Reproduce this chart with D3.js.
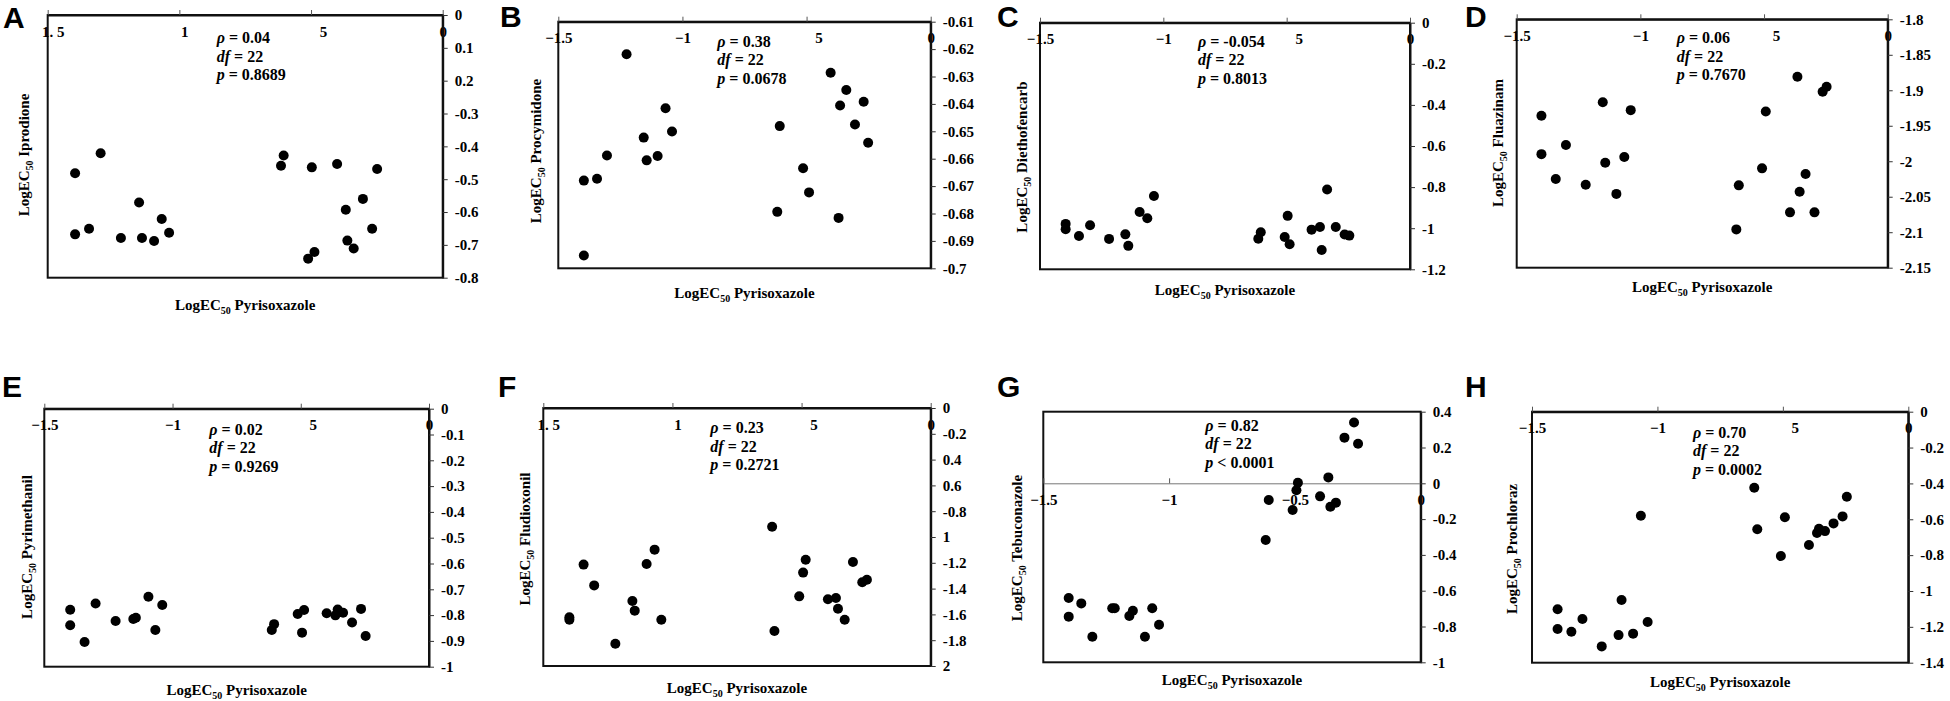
<!DOCTYPE html>
<html>
<head>
<meta charset="utf-8">
<script src="https://cdnjs.cloudflare.com/ajax/libs/d3/7.8.5/d3.min.js"></script>
<style>
    body { margin: 0; background: #fff; }
    svg text { font-family: "Liberation Serif", "Times New Roman", serif; font-weight: bold; fill: #000; }
    .letter { font-family: "Liberation Sans", Arial, sans-serif; font-size: 30px; }
    .tick text { font-size: 15px; }
</style>
</head>
<body>
<div id="chart"></div>
<script>
// LogEC50 pyrisoxazole (x) against LogEC50 of each partner fungicide (y)
var iprodioneX = [-1.396, -1.299, -1.396, -1.343, -1.222, -1.153, -1.142, -1.096, -1.067, -1.039, -0.614, -0.604, -0.497, -0.401, -0.249, -0.303, -0.368, -0.268, -0.362, -0.338, -0.487, -0.511];
var iprodioneY = [-0.482, -0.421, -0.668, -0.651, -0.679, -0.571, -0.679, -0.688, -0.621, -0.663, -0.459, -0.428, -0.464, -0.454, -0.469, -0.560, -0.593, -0.651, -0.687, -0.711, -0.722, -0.742];

var procymidoneX = [-1.225, -1.397, -1.344, -1.304, -1.397, -1.156, -1.144, -1.100, -1.068, -1.042, -0.608, -0.618, -0.514, -0.490, -0.403, -0.340, -0.365, -0.270, -0.305, -0.252, -0.371];
var procymidoneY = [-0.6219, -0.6680, -0.6673, -0.6588, -0.6953, -0.6523, -0.6606, -0.6590, -0.6416, -0.6501, -0.6481, -0.6794, -0.6635, -0.6723, -0.6286, -0.6349, -0.6406, -0.6392, -0.6475, -0.6542, -0.6816];

var diethofencarbX = [-1.396, -1.396, -1.342, -1.297, -1.220, -1.154, -1.142, -1.096, -1.065, -1.038, -0.615, -0.605, -0.508, -0.496, -0.488, -0.399, -0.365, -0.358, -0.336, -0.301, -0.265, -0.246];
var diethofencarbY = [-0.979, -1.005, -1.038, -0.986, -1.052, -1.030, -1.086, -0.921, -0.952, -0.843, -1.051, -1.020, -1.043, -0.940, -1.078, -1.007, -0.994, -1.106, -0.812, -0.994, -1.031, -1.036];

var fluazinamX = [-1.400, -1.400, -1.301, -1.342, -1.221, -1.152, -1.142, -1.097, -1.065, -1.039, -0.612, -0.602, -0.508, -0.493, -0.395, -0.365, -0.356, -0.332, -0.296, -0.263, -0.247];
var fluazinamY = [-1.936, -1.990, -1.977, -2.025, -2.033, -1.917, -2.002, -2.046, -1.994, -1.928, -2.096, -2.034, -2.010, -1.930, -2.072, -1.881, -2.043, -2.018, -2.072, -1.902, -1.895];

var pyrimethanilX = [-1.399, -1.399, -1.343, -1.300, -1.222, -1.153, -1.143, -1.094, -1.067, -1.040, -0.613, -0.604, -0.512, -0.487, -0.495, -0.399, -0.365, -0.356, -0.335, -0.300, -0.265, -0.247];
var pyrimethanilY = [-0.779, -0.839, -0.904, -0.755, -0.823, -0.815, -0.810, -0.729, -0.858, -0.761, -0.858, -0.835, -0.796, -0.780, -0.868, -0.793, -0.801, -0.778, -0.791, -0.829, -0.776, -0.881];

var fludioxonilX = [-1.399, -1.399, -1.344, -1.303, -1.221, -1.155, -1.146, -1.100, -1.069, -1.043, -0.614, -0.605, -0.509, -0.494, -0.484, -0.398, -0.367, -0.359, -0.333, -0.301, -0.265, -0.247];
var fludioxonilY = [-1.623, -1.641, -1.214, -1.375, -1.827, -1.496, -1.571, -1.209, -1.098, -1.641, -0.920, -1.729, -1.460, -1.276, -1.176, -1.483, -1.473, -1.556, -1.641, -1.194, -1.351, -1.331];

var tebuconazoleX = [-1.399, -1.399, -1.349, -1.305, -1.226, -1.216, -1.158, -1.144, -1.096, -1.067, -1.040, -0.616, -0.604, -0.509, -0.494, -0.488, -0.400, -0.367, -0.359, -0.337, -0.303, -0.265, -0.249];
var tebuconazoleY = [-0.641, -0.745, -0.671, -0.857, -0.698, -0.698, -0.741, -0.712, -0.857, -0.698, -0.790, -0.317, -0.093, -0.149, -0.039, 0.003, -0.073, 0.033, -0.131, -0.108, 0.255, 0.340, 0.221];

var prochlorazX = [-1.398, -1.398, -1.343, -1.299, -1.222, -1.155, -1.143, -1.097, -1.066, -1.039, -0.614, -0.602, -0.508, -0.492, -0.396, -0.364, -0.356, -0.332, -0.298, -0.262, -0.245];
var prochlorazY = [-1.102, -1.212, -1.227, -1.156, -1.309, -1.246, -1.050, -1.238, -0.580, -1.173, -0.424, -0.656, -0.805, -0.589, -0.744, -0.677, -0.653, -0.666, -0.623, -0.584, -0.474];

// x axis ticks (same for all panels) and the labels as printed
var xTicks = [-1.5, -1, -0.5, 0];
var xTickLabelsPlain = ["1. 5", "1", "5", "0"];
var xTickLabelsMinus = ["\u22121.5", "\u22121", "5", "0"];
var xTickLabelsFull = ["\u22121.5", "\u22121", "\u22120.5", "0"];

// y axis ticks and labels as printed
var iprodioneTicks = [0, -0.1, -0.2, -0.3, -0.4, -0.5, -0.6, -0.7, -0.8];
var iprodioneTickLabels = ["0", "0.1", "0.2", "-0.3", "-0.4", "-0.5", "-0.6", "-0.7", "-0.8"];
var procymidoneTicks = [-0.61, -0.62, -0.63, -0.64, -0.65, -0.66, -0.67, -0.68, -0.69, -0.70];
var procymidoneTickLabels = ["-0.61", "-0.62", "-0.63", "-0.64", "-0.65", "-0.66", "-0.67", "-0.68", "-0.69", "-0.7"];
var diethofencarbTicks = [0, -0.2, -0.4, -0.6, -0.8, -1, -1.2];
var diethofencarbTickLabels = ["0", "-0.2", "-0.4", "-0.6", "-0.8", "-1", "-1.2"];
var fluazinamTicks = [-1.8, -1.85, -1.9, -1.95, -2, -2.05, -2.1, -2.15];
var fluazinamTickLabels = ["-1.8", "-1.85", "-1.9", "-1.95", "-2", "-2.05", "-2.1", "-2.15"];
var pyrimethanilTicks = [0, -0.1, -0.2, -0.3, -0.4, -0.5, -0.6, -0.7, -0.8, -0.9, -1];
var pyrimethanilTickLabels = ["0", "-0.1", "-0.2", "-0.3", "-0.4", "-0.5", "-0.6", "-0.7", "-0.8", "-0.9", "-1"];
var fludioxonilTicks = [0, -0.2, -0.4, -0.6, -0.8, -1, -1.2, -1.4, -1.6, -1.8, -2];
var fludioxonilTickLabels = ["0", "-0.2", "0.4", "0.6", "-0.8", "1", "-1.2", "-1.4", "-1.6", "-1.8", "2"];
var tebuconazoleTicks = [0.4, 0.2, 0, -0.2, -0.4, -0.6, -0.8, -1];
var tebuconazoleTickLabels = ["0.4", "0.2", "0", "-0.2", "-0.4", "-0.6", "-0.8", "-1"];
var prochlorazTicks = [0, -0.2, -0.4, -0.6, -0.8, -1, -1.2, -1.4];
var prochlorazTickLabels = ["0", "-0.2", "-0.4", "-0.6", "-0.8", "-1", "-1.2", "-1.4"];

// correlation statistics
var rhoValues = ["0.04", "0.38", "-0.054", "0.06", "0.02", "0.23", "0.82", "0.70"];
var pRelations = ["=", "=", "=", "=", "=", "=", "<", "="];
var pValues = ["0.8689", "0.0678", "0.8013", "0.7670", "0.9269", "0.2721", "0.0001", "0.0002"];

var svg = d3.select("#chart").append("svg")
    .attr("width", 1950)
    .attr("height", 701);

var panels = [
    {letter: "A", name: "Iprodione", xs: iprodioneX, ys: iprodioneY, ticks: iprodioneTicks, tickLabels: iprodioneTickLabels, xLabels: xTickLabelsPlain,
        box: [47.7, 15, 442.7, 277.7], letterPos: [3, 28], stat: [169, 28], yTitle: [29, 155], xTitleDy: 32},
    {letter: "B", name: "Procymidone", xs: procymidoneX, ys: procymidoneY, ticks: procymidoneTicks, tickLabels: procymidoneTickLabels, xLabels: xTickLabelsMinus,
        box: [558.3, 21.7, 930.7, 268.3], letterPos: [500, 27], stat: [159, 25], yTitle: [541, 151], xTitleDy: 30},
    {letter: "C", name: "Diethofencarb", xs: diethofencarbX, ys: diethofencarbY, ticks: diethofencarbTicks, tickLabels: diethofencarbTickLabels, xLabels: xTickLabelsMinus,
        box: [1040, 22.7, 1410, 269.3], letterPos: [997, 27], stat: [158, 24], yTitle: [1027, 157], xTitleDy: 26},
    {letter: "D", name: "Fluazinam", xs: fluazinamX, ys: fluazinamY, ticks: fluazinamTicks, tickLabels: fluazinamTickLabels, xLabels: xTickLabelsMinus,
        box: [1516.7, 19.3, 1887.7, 267.7], letterPos: [1465, 27], stat: [160, 24], yTitle: [1503, 143], xTitleDy: 24},
    {letter: "E", name: "Pyrimethanil", xs: pyrimethanilX, ys: pyrimethanilY, ticks: pyrimethanilTicks, tickLabels: pyrimethanilTickLabels, xLabels: xTickLabelsMinus,
        box: [44.3, 408.7, 429, 666.7], letterPos: [2, 397], stat: [165, 26], yTitle: [32, 547], xTitleDy: 28},
    {letter: "F", name: "Fludioxonil", xs: fludioxonilX, ys: fludioxonilY, ticks: fludioxonilTicks, tickLabels: fludioxonilTickLabels, xLabels: xTickLabelsPlain,
        box: [543.3, 408, 930.7, 666], letterPos: [498, 397], stat: [167, 25], yTitle: [530, 539], xTitleDy: 27},
    {letter: "G", name: "Tebuconazole", xs: tebuconazoleX, ys: tebuconazoleY, ticks: tebuconazoleTicks, tickLabels: tebuconazoleTickLabels, xLabels: xTickLabelsFull,
        box: [1043.3, 411.7, 1420.7, 662.3], letterPos: [997, 397], stat: [162, 19], yTitle: [1022, 548], xTitleDy: 23, crossZero: true},
    {letter: "H", name: "Prochloraz", xs: prochlorazX, ys: prochlorazY, ticks: prochlorazTicks, tickLabels: prochlorazTickLabels, xLabels: xTickLabelsMinus,
        box: [1532, 411.7, 1908.3, 662.7], letterPos: [1465, 397], stat: [161, 26], yTitle: [1517, 549], xTitleDy: 24}
];

panels.forEach(function(p, i) { drawPanel(p, i); });

function drawPanel(p, i) {
    var left = p.box[0], top = p.box[1], right = p.box[2], bottom = p.box[3];

    var x = d3.scaleLinear()
        .domain([-1.5, 0])
        .range([left, right]);

    var y = d3.scaleLinear()
        .domain([p.ticks[0], p.ticks[p.ticks.length - 1]])
        .range([top, bottom]);

    var g = svg.append("g").attr("class", "panel");

    // frame
    g.append("rect")
        .attr("x", left)
        .attr("y", top)
        .attr("width", right - left)
        .attr("height", bottom - top)
        .attr("fill", "none")
        .attr("stroke", "#111")
        .attr("stroke-width", 2);

    // horizontal axis, ticks pointing up, labels underneath
    var axisY = p.crossZero ? y(0) : top;
    var xAxis = g.append("g")
        .attr("class", "axis")
        .attr("transform", "translate(0," + axisY + ")")
        .call(d3.axisBottom(x)
            .tickValues(xTicks)
            .tickSizeInner(-5)
            .tickSizeOuter(0)
            .tickPadding(11)
            .tickFormat(function(d, k) { return p.xLabels[k]; }));
    xAxis.select(".domain")
        .attr("stroke", p.crossZero ? "#777" : "#111")
        .attr("stroke-width", p.crossZero ? 1 : 2);
    xAxis.selectAll(".tick line").attr("stroke", "#555");
    xAxis.selectAll(".tick text")
        .attr("dx", function(d, k) {
            var s = p.xLabels[k];
            if (s == "5") return 12;
            if (s.charAt(0) == "1") return 5;
            return 0;
        });

    // vertical axis on the right
    var yAxis = g.append("g")
        .attr("class", "axis")
        .attr("transform", "translate(" + right + ",0)")
        .call(d3.axisRight(y)
            .tickValues(p.ticks)
            .tickSizeInner(5)
            .tickSizeOuter(0)
            .tickPadding(7)
            .tickFormat(function(d, k) { return p.tickLabels[k]; }));
    yAxis.select(".domain").attr("stroke", "#111").attr("stroke-width", 2);
    yAxis.selectAll(".tick line").attr("stroke", "#333");

    // points
    g.selectAll(".dot")
        .data(d3.zip(p.xs, p.ys))
        .enter().append("circle")
        .attr("class", "dot")
        .attr("cx", function(d) { return x(d[0]); })
        .attr("cy", function(d) { return y(d[1]); })
        .attr("r", 5)
        .attr("fill", "#000");

    // statistics block
    var lines = [
        ["\u03c1", " = " + rhoValues[i]],
        ["df", " = 22"],
        ["p", " " + pRelations[i] + " " + pValues[i]]
    ];
    lines.forEach(function(l, k) {
        var t = g.append("text")
            .attr("x", left + p.stat[0])
            .attr("y", top + p.stat[1] + k * 18.5)
            .style("font-size", "16px");
        t.append("tspan").style("font-style", "italic").text(l[0]);
        t.append("tspan").text(l[1]);
    });

    // x title
    var xt = g.append("text")
        .attr("x", (left + right) / 2)
        .attr("y", bottom + p.xTitleDy)
        .attr("text-anchor", "middle")
        .style("font-size", "15px");
    xt.append("tspan").text("LogEC");
    xt.append("tspan").attr("dy", 4).style("font-size", "10px").text("50");
    xt.append("tspan").attr("dy", -4).text(" Pyrisoxazole");

    // y title
    var yt = g.append("text")
        .attr("transform", "translate(" + p.yTitle[0] + "," + p.yTitle[1] + ") rotate(-90)")
        .attr("text-anchor", "middle")
        .style("font-size", "15px");
    yt.append("tspan").text("LogEC");
    yt.append("tspan").attr("dy", 4).style("font-size", "10px").text("50");
    yt.append("tspan").attr("dy", -4).text(" " + p.name);

    // panel letter
    g.append("text")
        .attr("class", "letter")
        .attr("x", p.letterPos[0])
        .attr("y", p.letterPos[1])
        .text(p.letter);
}
</script>
</body>
</html>
